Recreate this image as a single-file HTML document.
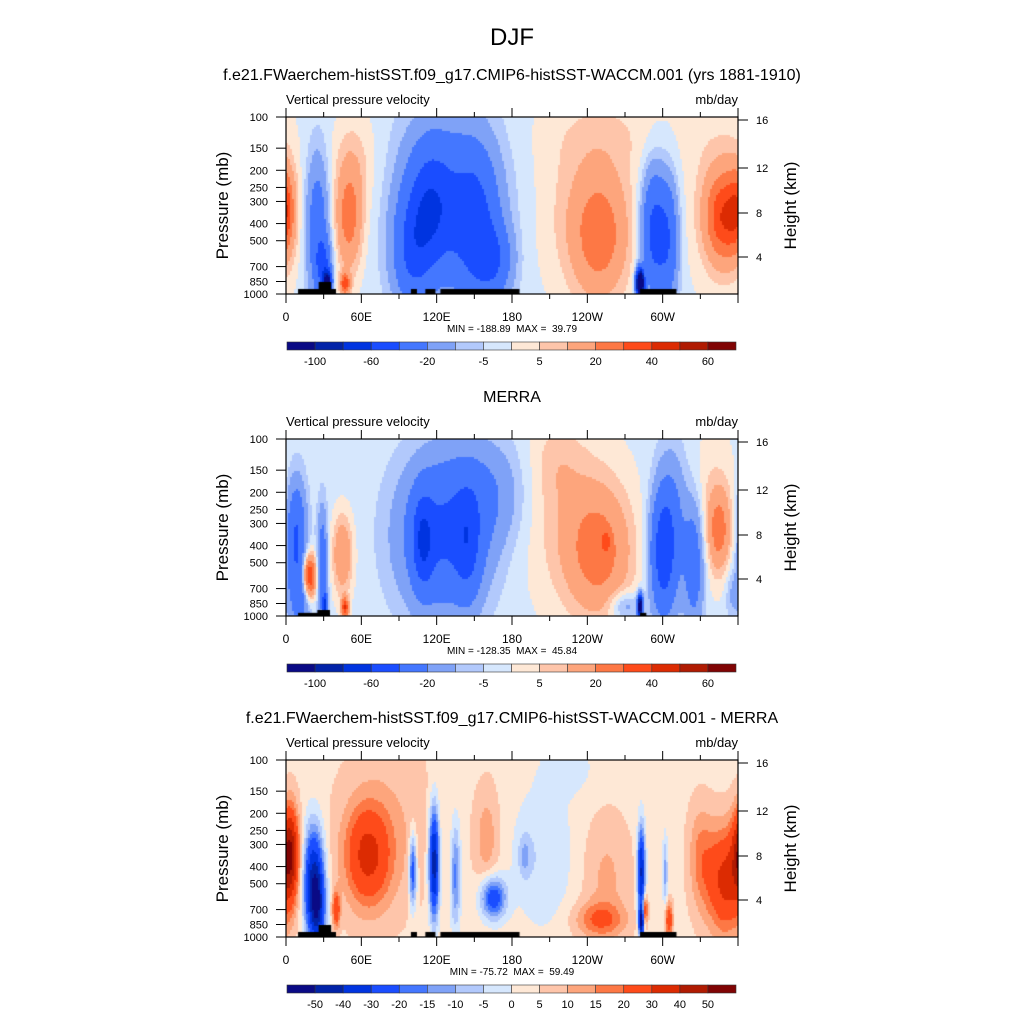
<!DOCTYPE html>
<html><head><meta charset="utf-8">
<style>
body{margin:0;background:#fff;}
#root{position:relative;width:1024px;height:1024px;overflow:hidden;font-family:"Liberation Sans",sans-serif;}
canvas{position:absolute;}
svg{position:absolute;left:0;top:0;}
</style></head>
<body>
<div id="root">
<canvas id="c0" width="452" height="177" style="left:286px;top:117px"></canvas>
<canvas id="c1" width="452" height="177" style="left:286px;top:439px"></canvas>
<canvas id="c2" width="452" height="177" style="left:286px;top:760px"></canvas>
<svg id="ov" width="1024" height="1024"></svg>
</div>
<script>
// ---- data ----
const colors = ["#0a0a85","#0223a8","#0034e0","#1a4dff","#4477ff","#7fa2f7","#b2c9fc","#d6e7fd","#fee8d6","#fec5aa","#fda57c","#fd7845","#fe4b1a","#dc2b02","#b01b02","#800404"];
const levelsA = [-100,-80,-60,-40,-20,-10,-5,0,5,10,20,30,40,50,60];
const levelsB = [-50,-40,-30,-20,-15,-10,-5,0,5,10,15,20,30,40,50];
const labelsA = ["-100","-60","-20","-5","5","20","40","60"];
const labelsB = ["-50","-40","-30","-20","-15","-10","-5","0","5","10","15","20","30","40","50"];
const xTickLon = [0,60,120,180,240,300];
const xTickLabels = ["0","60E","120E","180","120W","60W"];
const pTicks = [100,150,200,250,300,400,500,700,850,1000];
const hTicks = [16,12,8,4];
const hTickY = [120,168,213,257];
const baseVals = [-2,-2,3];
// blobs: [lon, pressure, amplitude, lonWidth, logpWidth]
const blobs1 = [
[0,330,18,7,0.22],[358,330,6,10,0.3],[25,420,-30,9,0.4],[30,700,-35,6,0.15],[33,860,-110,3,0.06],
[50,380,26,11,0.3],[47,880,35,4,0.06],[55,180,8,18,0.3],
[115,330,-40,18,0.35],[100,600,-30,15,0.3],[150,400,-35,18,0.4],[165,650,-30,15,0.2],[130,300,-22,40,0.5],
[250,480,22,22,0.35],[240,350,9,40,0.5],[260,120,5,60,0.25],
[293,450,-45,10,0.35],[282,870,-180,3,0.07],[305,500,-30,8,0.35],
[348,370,32,14,0.25],[345,300,9,25,0.5]];
const blobs2 = [
[8,350,-40,8,0.3],[12,750,-30,8,0.2],[18,600,55,6,0.13],[29,500,-30,4,0.3],[31,880,-60,2,0.07],
[45,450,22,8,0.22],[47,900,40,3,0.06],
[125,350,-40,34,0.42],[109,380,-35,8,0.25],[145,400,-25,10,0.3],[160,200,-15,30,0.3],
[250,450,22,25,0.35],[230,300,10,40,0.5],[215,130,6,20,0.25],[255,380,15,3,0.05],[270,880,-15,12,0.08],
[300,450,-45,10,0.35],[325,500,-30,8,0.35],[282,880,-130,2,0.06],[308,300,-20,12,0.4],
[345,330,22,9,0.22],[340,250,8,20,0.4],[356,750,-10,6,0.15]];
const blobs3 = [
[3,330,42,7,0.25],[22,480,-45,8,0.3],[25,700,-30,6,0.2],[40,700,25,3,0.1],
[65,350,26,18,0.28],[80,250,7,40,0.5],
[101,420,-30,3,0.2],[118,380,-50,4,0.3],[135,450,-20,4,0.3],[165,600,-30,10,0.12],
[205,350,-8,25,0.4],[190,350,-10,5,0.12],[160,280,10,10,0.3],
[250,800,16,20,0.1],[255,450,8,20,0.35],[225,110,-6,20,0.15],
[283,430,-45,3,0.25],[283,820,-50,2,0.08],[302,430,-15,2,0.2],[305,800,25,3,0.1],[286,700,30,2,0.08],
[350,480,30,15,0.3],[330,350,12,10,0.3]];
const terrain1 = [[9.6,39.8,937],[26,36,855],[99.5,104.3,937],[111,119,937],[123,186,937],[282,311,937]];
const terrain2 = [[9.6,35,960],[25,35,925],[282,287,960]];
const minmax = ["MIN = -188.89  MAX =  39.79","MIN = -128.35  MAX =  45.84","MIN = -75.72  MAX =  59.49"];
const titles = ["f.e21.FWaerchem-histSST.f09_g17.CMIP6-histSST-WACCM.001 (yrs 1881-1910)","MERRA","f.e21.FWaerchem-histSST.f09_g17.CMIP6-histSST-WACCM.001 - MERRA"];

// ---- scales ----
const X0=286,W=452,H=177;
const tops=[117,439,760];
function xs(lon){return X0+lon/360*W;}
function ys(p,top){return top+(Math.log10(p)-2)*H;}
const NS="http://www.w3.org/2000/svg";
const ov=document.getElementById('ov');
function el(tag,attrs,parent){const e=document.createElementNS(NS,tag);for(const k in attrs)e.setAttribute(k,attrs[k]);(parent||ov).appendChild(e);return e;}
function txt(x,y,s,size,anchor,name,extra){const t=el('text',Object.assign({x:x,y:y,'font-size':size,'text-anchor':anchor||'start',fill:'#000','font-family':'Liberation Sans, sans-serif'},extra||{}));t.setAttribute('style','white-space:pre');t.textContent=s;


return t;}

function field(blobs,base,lon,lp){let v=base;for(const b of blobs){let d=lon-b[0];if(d>180)d-=360;if(d<-180)d+=360;const e=(d/b[3])**2+((lp-Math.log10(b[1]))/b[4])**2;if(e<12)v+=b[2]*Math.exp(-e);}return v;}
function bin(v,lv){let i=0;while(i<lv.length&&v>=lv[i])i++;return i;}

const panelBlobs=[blobs1,blobs2,blobs3];
const panelLevels=[levelsA,levelsA,levelsB];
const panelTerrain=[terrain1,terrain2,terrain1];
for(let k=0;k<3;k++){
  const ctx=document.getElementById('c'+k).getContext('2d');
  const st=2;
  for(let py=0;py<H;py+=st){
    const lp=2+(py+st/2)/H;
    for(let px=0;px<W;px+=st){
      const lon=(px+st/2)/W*360;
      ctx.fillStyle=colors[bin(field(panelBlobs[k],baseVals[k],lon,lp),panelLevels[k])];
      ctx.fillRect(px,py,st,st);
    }
  }
  ctx.fillStyle='#000';
  for(const t of panelTerrain[k]){
    const x0=xs(t[0])-X0,x1=xs(t[1])-X0,y0=ys(t[2],0);
    ctx.fillRect(x0,y0,x1-x0,H-y0);
  }
}

txt(512,45,"DJF",24,'middle','figure-title');
const titleY=[80,402,723];
for(let k=0;k<3;k++){
  const top=tops[k];
  txt(512,titleY[k],titles[k],16,'middle','panel-title');
  txt(286,top-13,"Vertical pressure velocity",13,'start','left-string');
  txt(738,top-13,"mb/day",13,'end','units-label');
  const r=el('rect',{x:X0,y:top,width:W,height:H,fill:'none',stroke:'#000','stroke-width':1.2});
  
  
  for(let lon=0;lon<=360;lon+=30){
    const major=lon%60===0, len=major?9:5;
    el('line',{x1:xs(lon),x2:xs(lon),y1:top,y2:top-len,stroke:'#000','stroke-width':1});
    el('line',{x1:xs(lon),x2:xs(lon),y1:top+H,y2:top+H+len,stroke:'#000','stroke-width':1});
  }
  for(let i=0;i<xTickLon.length;i++){
    txt(xs(xTickLon[i]),top+H+27,xTickLabels[i],12,'middle','x-tick-label');
  }
  for(const p of pTicks){
    el('line',{x1:X0-10,x2:X0,y1:ys(p,top),y2:ys(p,top),stroke:'#000','stroke-width':1});
    txt(268,ys(p,top)+4,String(p),11,'end','y-tick-label');
  }
  for(let i=0;i<hTicks.length;i++){
    const y=hTickY[i]-117+top;
    el('line',{x1:X0+W,x2:X0+W+10,y1:y,y2:y,stroke:'#000','stroke-width':1});
    txt(756,y+4,String(hTicks[i]),11,'start','height-tick-label');
  }
  txt(228,top+H/2,"Pressure (mb)",17,'middle','y-axis-title',{transform:`rotate(-90 228 ${top+H/2})`});
  txt(796,top+H/2,"Height (km)",17,'middle','right-axis-title',{transform:`rotate(-90 796 ${top+H/2})`});
  txt(512,top+H+38,minmax[k],10,'middle','min-max-label');
  // colorbar
  const cy=top+225, cw=(736-287)/16;
  for(let i=0;i<16;i++){
    const b=el('rect',{x:287+i*cw,y:cy,width:cw,height:8,fill:colors[i],stroke:'#333','stroke-width':0.6});
    
    
  }
  if(k<2){
    for(let j=0;j<labelsA.length;j++)txt(287+(2*j+1)*cw,cy+23,labelsA[j],11,'middle','colorbar-label');
  }else{
    for(let j=0;j<labelsB.length;j++)txt(287+(j+1)*cw,cy+23,labelsB[j],11,'middle','colorbar-label');
  }
}
</script>
</body></html>
